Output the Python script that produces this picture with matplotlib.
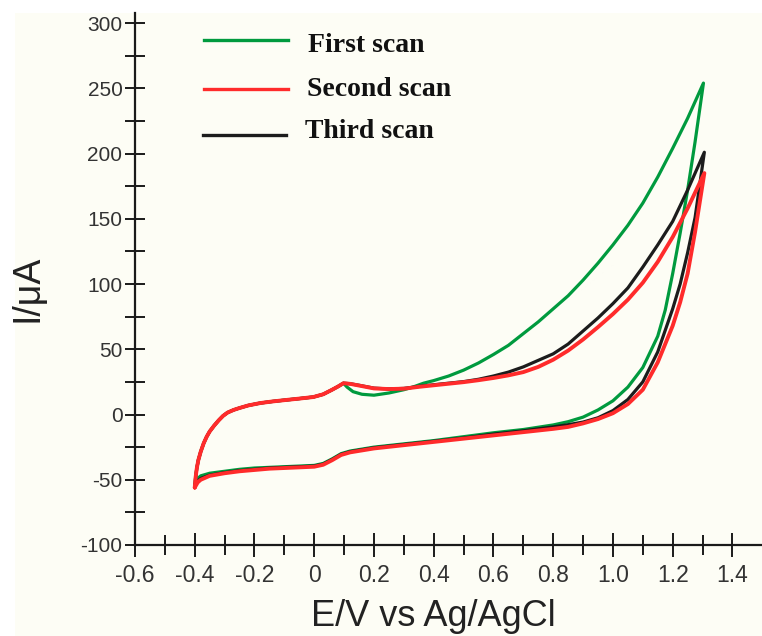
import matplotlib.pyplot as plt
from matplotlib.patches import Rectangle
from matplotlib.lines import Line2D
from matplotlib.ticker import MultipleLocator, FixedLocator

plt.rcParams['font.family'] = ['Liberation Sans', 'DejaVu Sans']
plt.rcParams['axes.unicode_minus'] = False

# ---- data (E in V vs Ag/AgCl, I in uA) ----
# forward branch, starting at -0.4 V
E_low = [-0.40, -0.39, -0.38, -0.35, -0.30, -0.25, -0.20, -0.15, -0.10, -0.05,
         0.00, 0.03, 0.06, 0.09, 0.12, 0.16, 0.20, 0.30, 0.40, 0.50, 0.60, 0.70]
I_low_first = [-54, -49, -47, -45, -43.5, -42, -41, -40.5, -40, -39.5,
               -39, -37.5, -34, -30, -28, -26.5, -25, -22.5, -20, -17, -14, -11.5]
I_low_second = [-56, -52, -50, -47, -45, -43.5, -42.5, -41.5, -41, -40.5,
                -40, -38.5, -35, -31, -29, -27.5, -26, -23.5, -21, -18.5, -16, -13.5]
I_low_third = [-55, -51, -49, -46.5, -44.5, -43, -42, -41, -40.5, -40,
               -39.5, -38, -34.5, -30.5, -28.5, -27, -25.5, -23, -20.5, -18, -15, -12.5]

# steep rise up to the switching potential (~1.3 V)
E_up_first = [0.80, 0.85, 0.90, 0.95, 1.00, 1.05, 1.10, 1.15, 1.175, 1.20, 1.225, 1.25, 1.275, 1.303]
I_up_first = [-8, -5.5, -2, 3.5, 10.5, 21, 36, 60, 80, 108, 139, 172, 209, 254]
E_up_second = [0.80, 0.85, 0.90, 0.95, 1.00, 1.05, 1.10, 1.15, 1.20, 1.225, 1.25, 1.275, 1.306]
I_up_second = [-11, -9.5, -6.8, -3.5, 1, 8, 19, 40, 68, 86, 108, 140, 185]
E_up_third = [0.80, 0.85, 0.90, 0.95, 1.00, 1.05, 1.10, 1.15, 1.20, 1.225, 1.25, 1.275, 1.306]
I_up_third = [-9.5, -7.8, -5.8, -2.5, 3, 11.5, 25, 48, 81, 100, 124, 151, 201]

# reverse branch, from the switching potential back to ~0.1 V
E_rev_first = [1.25, 1.20, 1.15, 1.10, 1.05, 1.00, 0.95, 0.90, 0.85, 0.80, 0.75, 0.70,
               0.65, 0.60, 0.55, 0.50, 0.45, 0.40, 0.366, 0.33, 0.30, 0.25, 0.20,
               0.16, 0.13, 0.11]
I_rev_first = [227, 204, 182, 162, 145, 130, 116, 103, 91, 81, 71, 62,
               53, 46, 39.5, 34, 29.5, 26, 24, 21, 19, 16.5, 14.8,
               15.5, 17.5, 21]
E_rev_second = [1.25, 1.20, 1.15, 1.10, 1.05, 1.00, 0.95, 0.90, 0.85, 0.80, 0.75, 0.70,
                0.65, 0.60, 0.55, 0.50, 0.45, 0.40, 0.35, 0.30, 0.25, 0.20, 0.15, 0.12]
I_rev_second = [158, 136, 117, 101, 88, 77, 67, 57.5, 49, 42, 36.5, 32.5,
                30, 28, 26.3, 24.8, 23.6, 22.4, 21.2, 19.8, 19.5, 20, 22.2, 23.5]
E_rev_third = [1.25, 1.20, 1.15, 1.10, 1.05, 1.00, 0.95, 0.90, 0.85, 0.80, 0.75, 0.70,
               0.65, 0.60, 0.55, 0.50, 0.45, 0.40, 0.35, 0.30, 0.25, 0.20, 0.15, 0.12]
I_rev_third = [172, 148, 130, 113, 97, 85, 74, 64, 54, 46.5, 41.5, 36.5,
               32.5, 29.5, 27, 25.2, 24, 22.8, 21.5, 20, 19.6, 20.2, 22.4, 23.6]

# return to -0.4 V (same for all three scans)
E_back = [0.098, 0.08, 0.06, 0.03, -0.003, -0.05, -0.10, -0.14, -0.18, -0.22, -0.25,
          -0.27, -0.29, -0.305, -0.32, -0.335, -0.35, -0.36, -0.37, -0.38, -0.388,
          -0.393, -0.397, -0.40]
I_back = [24, 21.5, 19, 15.5, 13.4, 12.2, 11, 10, 8.8, 7, 5,
          3.5, 1.5, -1, -4.5, -8.5, -13, -17, -22, -28.5, -35,
          -41, -48, -56]

labels = ["First scan", "Second scan", "Third scan"]
colors = ["#009a3e", "#ff2b2b", "#1c1c1c"]

x_ticks = [-0.6, -0.4, -0.2, 0, 0.2, 0.4, 0.6, 0.8, 1.0, 1.2, 1.4]
x_tick_labels = ["-0.6", "-0.4", "-0.2", "0", "0.2", "0.4", "0.6", "0.8", "1.0", "1.2", "1.4"]
y_ticks = [-100, -50, 0, 50, 100, 150, 200, 250, 300]

scans = {
    "First scan": (E_low + E_up_first + E_rev_first + E_back,
                   I_low_first + I_up_first + I_rev_first + I_back),
    "Second scan": (E_low + E_up_second + E_rev_second + E_back,
                    I_low_second + I_up_second + I_rev_second + I_back),
    "Third scan": (E_low + E_up_third + E_rev_third + E_back,
                   I_low_third + I_up_third + I_rev_third + I_back),
}

fig = plt.figure(figsize=(7.62, 6.36), dpi=100)
fig.patch.set_facecolor("white")
# cream paper background
fig.add_artist(Rectangle((15 / 762, 0), 1, 1 - 13 / 636, transform=fig.transFigure,
                         facecolor="#fdfdf5", edgecolor="none", zorder=-10))

ax = fig.add_axes([135 / 762, 91 / 636, 627 / 762, 532 / 636])
ax.set_facecolor("none")

# draw green, then black, then red on top
for name, lw in [("First scan", 2.3), ("Third scan", 2.3), ("Second scan", 2.8)]:
    E, I = scans[name]
    ax.plot(E, I, color=colors[labels.index(name)], lw=lw,
            solid_joinstyle="round", solid_capstyle="round")

ax.set_xlim(-0.6, 1.499)
ax.set_ylim(-100, 307.7)

for s in ["top", "right"]:
    ax.spines[s].set_visible(False)
for s in ["left", "bottom"]:
    ax.spines[s].set_linewidth(1.6)
    ax.spines[s].set_color("#1a1a1a")

ax.xaxis.set_major_locator(FixedLocator(x_ticks))
ax.set_xticklabels(x_tick_labels)
ax.xaxis.set_minor_locator(MultipleLocator(0.1))
ax.yaxis.set_major_locator(FixedLocator(y_ticks))
ax.yaxis.set_minor_locator(MultipleLocator(25))

ax.tick_params(axis="x", which="major", direction="inout", length=17, width=1.4,
               color="#1a1a1a", labelsize=16.5, labelcolor="#333333", pad=5)
ax.tick_params(axis="x", which="minor", direction="inout", length=14, width=1.4,
               color="#1a1a1a")
ax.tick_params(axis="y", which="major", direction="inout", length=14, width=1.4,
               color="#1a1a1a", labelsize=15, labelcolor="#333333", pad=2)
ax.tick_params(axis="y", which="minor", direction="inout", length=14, width=1.4,
               color="#1a1a1a")

# axis titles
fig.text(28 / 762, 1 - 288 / 636, "I/\u03bcA", rotation=90, ha="center", va="center",
         fontsize=27, color="#222222")
fig.text(433 / 762, 1 - 616 / 636, "E/V vs Ag/AgCl", ha="center", va="center",
         fontsize=26, color="#222222")

# legend drawn by hand like the original
leg_line_y = [40, 89, 135]
leg_text_y = [46, 90, 131]
leg_x = [(204, 288, 308), (204, 288, 307), (203, 286, 305)]
for i in range(3):
    x0, x1, xt = leg_x[i]
    fig.add_artist(Line2D([x0 / 762, x1 / 762], [1 - leg_line_y[i] / 636] * 2,
                          transform=fig.transFigure, color=colors[i], lw=2.4))
    fig.text(xt / 762, 1 - leg_text_y[i] / 636, labels[i], ha="left", va="center",
             fontsize=20, fontweight="bold", family=["Liberation Serif", "DejaVu Serif"],
             color="#111111")

fig.savefig("out.png", dpi=100)
